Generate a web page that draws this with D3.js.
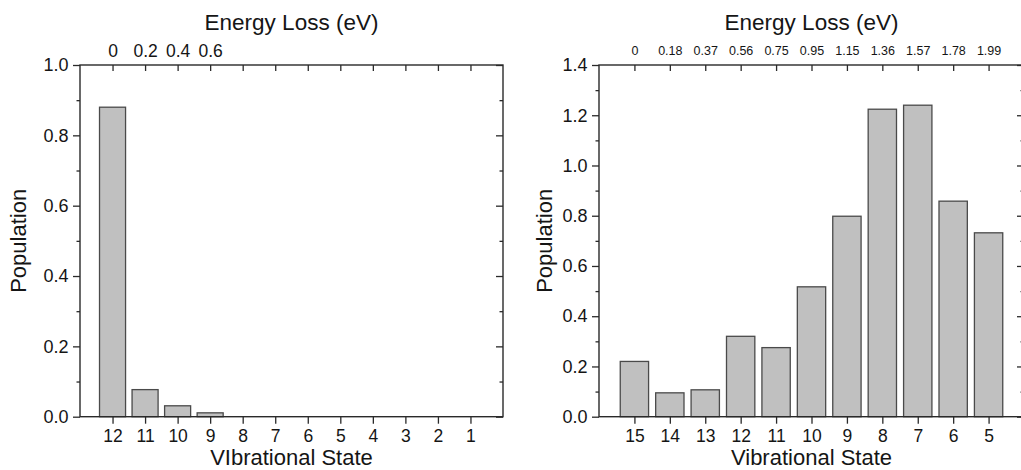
<!DOCTYPE html>
<html>
<head>
<meta charset="utf-8">
<script src="https://cdn.jsdelivr.net/npm/d3@7"></script>
<style>
  html, body { margin: 0; padding: 0; background: #fff; }
  svg { display: block; font-family: "Liberation Sans", Arial, sans-serif; }
</style>
</head>
<body>
<svg id="chart" width="1021" height="470"></svg>
<script>
// ---- data ----
const leftStates = ["12", "11", "10", "9", "8", "7", "6", "5", "4", "3", "2", "1"];
const leftPopulation = [0.88, 0.077, 0.031, 0.011, 0, 0, 0, 0, 0, 0, 0, 0];
const leftEnergy = ["0", "0.2", "0.4", "0.6", "", "", "", "", "", "", "", ""];
const leftYTicks = [0, 0.2, 0.4, 0.6, 0.8, 1.0];
const leftYMinor = [0.1, 0.3, 0.5, 0.7, 0.9];

const rightStates = ["15", "14", "13", "12", "11", "10", "9", "8", "7", "6", "5"];
const rightPopulation = [0.22, 0.095, 0.107, 0.32, 0.275, 0.517, 0.798, 1.224, 1.24, 0.858, 0.732];
const rightEnergy = ["0", "0.18", "0.37", "0.56", "0.75", "0.95", "1.15", "1.36", "1.57", "1.78", "1.99"];
const rightYTicks = [0, 0.2, 0.4, 0.6, 0.8, 1.0, 1.2, 1.4];
const rightYMinor = [0.1, 0.3, 0.5, 0.7, 0.9, 1.1, 1.3];

const svg = d3.select("#chart");
const axisColor = "#2a2a2a";
const textColor = "#151515";

function panel(cfg) {
  const { x0, x1, yTop, yBot, states, values, energy, yMax, yTicks, yMinor,
          xTitle, titleBaseline, topPad, topFont, yTitleX } = cfg;
  const g = svg.append("g");
  const x = d3.scalePoint().domain(states).range([x0, x1]).padding(1);
  const y = d3.scaleLinear().domain([0, yMax]).range([yBot, yTop]);
  const bw = x.step() * 0.8;

  // bars
  g.append("g").selectAll("rect").data(states.map((s, i) => ({ s, v: values[i] })))
    .join("rect")
    .attr("x", d => x(d.s) - bw / 2)
    .attr("width", bw)
    .attr("y", d => y(d.v))
    .attr("height", d => y(0) - y(d.v))
    .attr("fill", "#c0c0c0")
    .attr("stroke", "#4a4a4a")
    .attr("stroke-width", 1.3)
    .attr("display", d => d.v > 0 ? null : "none");

  function styleAxis(sel, fontSize) {
    sel.select(".domain").remove();
    sel.selectAll("line").attr("stroke", axisColor).attr("stroke-width", 1.3);
    sel.selectAll("text").attr("fill", textColor).attr("font-size", fontSize)
      .attr("font-family", "'Liberation Sans', Arial, sans-serif");
  }

  // left axis major + minor
  g.append("g").attr("transform", `translate(${x0},0)`)
    .call(d3.axisLeft(y).tickValues(yTicks).tickSize(7).tickPadding(4.5).tickFormat(d3.format(".1f")))
    .call(s => styleAxis(s, 18));
  g.append("g").attr("transform", `translate(${x0},0)`)
    .call(d3.axisLeft(y).tickValues(yMinor).tickSize(3.5).tickFormat(""))
    .call(s => styleAxis(s, 0));
  // right axis (inward)
  g.append("g").attr("transform", `translate(${x1},0)`)
    .call(d3.axisRight(y).tickValues(yTicks).tickSize(-7).tickFormat(""))
    .call(s => styleAxis(s, 0));
  g.append("g").attr("transform", `translate(${x1},0)`)
    .call(d3.axisRight(y).tickValues(yMinor).tickSize(-3.5).tickFormat(""))
    .call(s => styleAxis(s, 0));

  // bottom axis
  g.append("g").attr("transform", `translate(0,${yBot})`)
    .call(d3.axisBottom(x).tickSize(7).tickPadding(6))
    .call(s => styleAxis(s, 17.5));

  // top axis (energy)
  const eMap = new Map(states.map((s, i) => [s, energy[i]]));
  g.append("g").attr("transform", `translate(0,${yTop})`)
    .call(d3.axisTop(x).tickSizeInner(-6).tickSizeOuter(0).tickPadding(topPad).tickFormat(d => eMap.get(d)))
    .call(s => styleAxis(s, topFont));

  // frame
  g.append("rect").attr("x", x0).attr("y", yTop)
    .attr("width", x1 - x0).attr("height", yBot - yTop)
    .attr("fill", "none").attr("stroke", axisColor).attr("stroke-width", 1.4);

  const cx = (x0 + x1) / 2;
  g.append("text").attr("x", cx).attr("y", titleBaseline)
    .attr("text-anchor", "middle").attr("font-size", 22.5).attr("fill", textColor)
    .text("Energy Loss (eV)");
  g.append("text").attr("x", cx).attr("y", 465)
    .attr("text-anchor", "middle").attr("font-size", 22).attr("fill", textColor)
    .text(xTitle);
  g.append("text")
    .attr("transform", `translate(${yTitleX},${(yTop + yBot) / 2}) rotate(-90)`)
    .attr("text-anchor", "middle").attr("font-size", 22).attr("fill", textColor)
    .text("Population");
}

panel({
  x0: 80, x1: 503, yTop: 65, yBot: 416.7,
  states: leftStates, values: leftPopulation, energy: leftEnergy,
  yMax: 1.0, yTicks: leftYTicks, yMinor: leftYMinor,
  xTitle: "VIbrational State", titleBaseline: 30, topPad: 8, topFont: 17.5, yTitleX: 26
});

panel({
  x0: 599, x1: 1024, yTop: 65, yBot: 416.7,
  states: rightStates, values: rightPopulation, energy: rightEnergy,
  yMax: 1.4, yTicks: rightYTicks, yMinor: rightYMinor,
  xTitle: "Vibrational State", titleBaseline: 30, topPad: 10.5, topFont: 12.5, yTitleX: 552
});
</script>
</body>
</html>
